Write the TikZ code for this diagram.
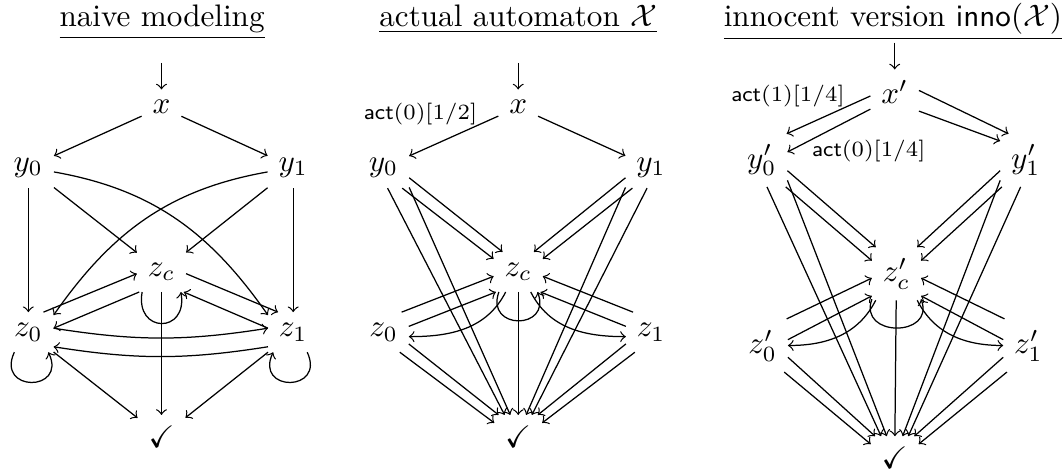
\documentclass[tikz,border=0pt]{standalone}
\usepackage{amssymb}
\tikzset{
    lbl/.style={font=\scriptsize, inner sep=0pt},
    ttl/.style={anchor=base, inner sep=0pt},
    cloop/.style={out=-110, in=-70, distance=4.6mm},
    sideloop/.style={out=-115, in=-65, distance=5mm}
}
\begin{document}
\begin{tikzpicture}[>=to]
    \useasboundingbox (0,0) rectangle (12.0,5.33);

    % Titles
    \node[ttl] (ttl1) at (1.83,5.03) {\underline{naive modeling}};
    \node[ttl] (ttl2) at (5.85,5.03) {\underline{actual automaton $\mathcal{X}$}};
    \node[ttl] (ttl3) at (10.08,5.03) {\underline{innocent version $\textsf{inno}(\mathcal{X})$}};

    % Naive modeling
    \coordinate (ns) at (1.823,4.62);
    \node (nx) at (1.823,4.12) {$x$};
    \node (ny0) at (0.32,3.44) {$y_0$};
    \node (ny1) at (3.31,3.44) {$y_1$};
    \node (nzc) at (1.823,2.26) {$z_c$};
    \node (nz0) at (0.32,1.58) {$z_0$};
    \node (nz1) at (3.31,1.58) {$z_1$};
    \node (nok) at (1.823,0.40) {\checkmark};

    \draw[->] (ns) -- (nx);
    \draw[->] (nx) -- (ny0);
    \draw[->] (nx) -- (ny1);
    \draw[->] (ny0) -- (nz0);
    \draw[->] (ny1) -- (nz1);
    \draw[->] (ny0) -- (nzc);
    \draw[->] (ny1) -- (nzc);
    \draw[->] (ny0.-10) to[out=-10, in=125] (nz1.146);
    \draw[->] (ny1.-170) to[out=190, in=55] (nz0.34);
    \draw[->] (nz0.53) -- (nzc.184);
    \draw[->] (nzc.-138) -- (nz0.9);
    \draw[->] (nzc.-4) -- (nz1.127);
    \draw[->] (nz1.171) -- (nzc.-42);
    \draw[->] (nz0.9) to[bend right=9] (nz1.171);
    \draw[->] (nz1.-150) to[bend left=9] (nz0.-30);
    \draw[->] (nzc.-134) to[out=-100, in=-80, distance=4.8mm] (nzc.-46);
    \draw[->] (nz0.-125) to[sideloop] (nz0.-45);
    \draw[->] (nz1.-55) to[out=-65, in=-115, distance=5mm] (nz1.-135);
    \draw[->] (nz0) -- (nok);
    \draw[->] (nzc) -- (nok);
    \draw[->] (nz1) -- (nok);

    % Actual automaton
    \coordinate (as) at (5.85,4.62);
    \node (ax) at (5.85,4.12) {$x$};
    \node (ay0) at (4.33,3.44) {$y_0$};
    \node (ay1) at (7.35,3.44) {$y_1$};
    \node (azc) at (5.85,2.26) {$z_c$};
    \node (az0) at (4.33,1.58) {$z_0$};
    \node (az1) at (7.35,1.58) {$z_1$};
    \node (aok) at (5.85,0.40) {\checkmark};

    \draw[->] (as) -- (ax);
    \draw[->] (ax) -- node[lbl, pos=.23, anchor=south east] {\textsf{act}$(0)[1/2]$} (ay0);
    \draw[->] (ax) -- (ay1);
    \draw[->] (ay0.-22) -- (azc.128);
    \draw[->] (ay0.-48) -- (azc.152);
    \draw[->] (ay0.-38) -- (aok.110);
    \draw[->] (ay0.-79) -- (aok.122);
    \draw[->] (ay1.-158) -- (azc.52);
    \draw[->] (ay1.-132) -- (azc.28);
    \draw[->] (ay1.-142) -- (aok.70);
    \draw[->] (ay1.-101) -- (aok.58);
    \draw[->] (az0.48) -- (azc.190);
    \draw[->] (az0.13) -- (azc.222);
    \draw[->] (az1.132) -- (azc.-10);
    \draw[->] (az1.167) -- (azc.-42);
    \draw[->] (azc.-122) to[out=-117, in=0] (az0.-10);
    \draw[->] (azc.-58) to[out=-63, in=180] (az1.-170);
    \draw[->] (azc.-134) to[cloop] (azc.-46);
    \draw[->] (azc) -- (aok);
    \draw[->] (az0.-51) -- (aok.150);
    \draw[->] (az0.-25) -- (aok.132);
    \draw[->] (az1.-129) -- (aok.30);
    \draw[->] (az1.-155) -- (aok.48);

    % Innocent version
    \coordinate (is) at (10.10,4.85);
    \node (ix) at (10.10,4.29) {$x'$};
    \node (iy0) at (8.60,3.52) {$y'_0$};
    \node (iy1) at (11.58,3.52) {$y'_1$};
    \node (izc) at (10.12,2.24) {$z'_c$};
    \node (iz0) at (8.61,1.43) {$z'_0$};
    \node (iz1) at (11.61,1.43) {$z'_1$};
    \node (iok) at (10.10,0.16) {\checkmark};

    \draw[->] (is) -- (ix);
    \draw[->] (ix.189) -- node[lbl, pos=.3, anchor=south east] {\textsf{act}$(1)[1/4]$} (iy0.47);
    \draw[->] (ix.215) -- node[lbl, pos=.71, anchor=north west] {\textsf{act}$(0)[1/4]$} (iy0.18);
    \draw[->] (ix.4) -- (iy1.123);
    \draw[->] (ix.-38) -- (iy1.143);
    \draw[->] (iy0.-22) -- (izc.128);
    \draw[->] (iy0.-48) -- (izc.152);
    \draw[->] (iy0.-38) -- (iok.110);
    \draw[->] (iy0.-79) -- (iok.122);
    \draw[->] (iy1.-158) -- (izc.52);
    \draw[->] (iy1.-132) -- (izc.28);
    \draw[->] (iy1.-142) -- (iok.70);
    \draw[->] (iy1.-101) -- (iok.58);
    \draw[->] (iz0.48) -- (izc.190);
    \draw[->] (iz0.13) -- (izc.222);
    \draw[->] (iz1.132) -- (izc.-10);
    \draw[->] (iz1.167) -- (izc.-42);
    \draw[->] (izc.-128) to[out=-117, in=0] (iz0.0);
    \draw[->] (izc.-52) to[out=-63, in=180] (iz1.180);
    \draw[->] (izc.-134) to[cloop] (izc.-46);
    \draw[->] (izc) -- (iok);
    \draw[->] (iz0.-51) -- (iok.150);
    \draw[->] (iz0.-25) -- (iok.132);
    \draw[->] (iz1.-129) -- (iok.30);
    \draw[->] (iz1.-155) -- (iok.48);
\end{tikzpicture}
\end{document}
